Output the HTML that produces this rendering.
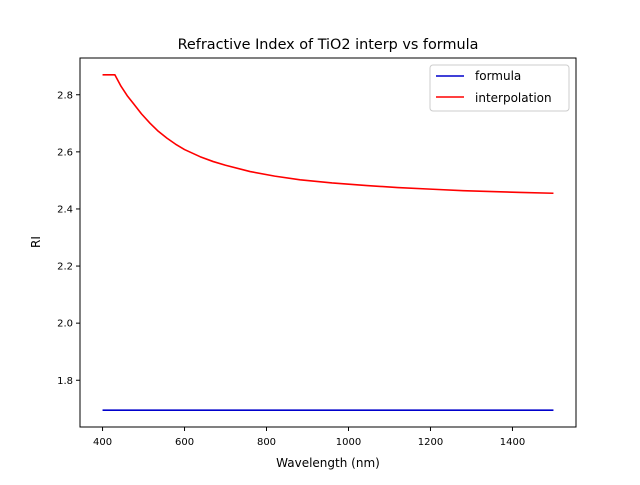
<!DOCTYPE html>
<html><head><meta charset="utf-8"><style>
body{margin:0;background:#fff}
svg text{font-family:"DejaVu Sans","Liberation Sans",sans-serif;fill:#000}
</style></head><body>
<svg id="chart" width="640" height="480" viewBox="0 0 640 480" xmlns="http://www.w3.org/2000/svg">
<rect width="640" height="480" fill="#fff"/>
<text x="328" y="49" font-size="14.4" text-anchor="middle">Refractive Index of TiO2 interp vs formula</text>
<g id="marks"></g>
<rect x="80" y="58" width="496" height="369" fill="none" stroke="#000" stroke-width="1"/>
<g id="xticks"></g><g id="yticks"></g>
<text x="328" y="467" font-size="12" text-anchor="middle">Wavelength (nm)</text>
<text transform="translate(40,242) rotate(-90)" font-size="12" text-anchor="middle">RI</text>
<g>
<rect x="430" y="65" width="139" height="46" rx="3" fill="#fff" stroke="#ccc"/>
<line x1="436" y1="76" x2="464" y2="76" stroke="#0000cc" stroke-width="1.6"/>
<text x="475" y="80" font-size="12">formula</text>
<line x1="436" y1="97" x2="464" y2="97" stroke="#ff0000" stroke-width="1.6"/>
<text x="475" y="102" font-size="12">interpolation</text>
</g>
</svg>
<script>
const wavelengths=[400,430,445,460,475,495,516,536,557,578,600,638,670,700,760,820,882,960,1045,1120,1206,1280,1350,1420,1500];
const interpValues=[2.87,2.87,2.83,2.797,2.770,2.733,2.700,2.672,2.648,2.627,2.608,2.583,2.566,2.553,2.531,2.515,2.502,2.491,2.482,2.475,2.469,2.464,2.461,2.458,2.455];
const formulaWavelengths=[400,1500];
const formulaValues=[1.695,1.695];
const xTickValues=[400,600,800,1000,1200,1400];
const yTickValues=[1.8,2.0,2.2,2.4,2.6,2.8];
const yTickLabels=["1.8","2.0","2.2","2.4","2.6","2.8"];
const X0=80,X1=576,Y0=58,Y1=427;
const xmin=345,xmax=1555,ymin=1.63625,ymax=2.92875;
const sx=v=>X0+(v-xmin)/(xmax-xmin)*(X1-X0);
const sy=v=>Y1-(v-ymin)/(ymax-ymin)*(Y1-Y0);
const NS="http://www.w3.org/2000/svg";
function mk(t,a,p){const e=document.createElementNS(NS,t);for(const k in a)e.setAttribute(k,a[k]);p.appendChild(e);return e;}
const marks=document.getElementById('marks');
let l1=mk('polyline',{points:formulaWavelengths.map((w,i)=>sx(w)+','+sy(formulaValues[i])).join(' '),fill:'none',stroke:'#0000cc','stroke-width':1.6},marks);


let l2=mk('polyline',{points:wavelengths.map((w,i)=>sx(w)+','+sy(interpValues[i])).join(' '),fill:'none',stroke:'#ff0000','stroke-width':1.6,'stroke-linejoin':'round'},marks);


const xt=document.getElementById('xticks');
xTickValues.forEach(v=>{
 const ln=mk('line',{x1:sx(v),x2:sx(v),y1:Y1,y2:Y1+4,stroke:'#000'},xt);
 
 
 const t=mk('text',{x:sx(v),y:Y1+18,'font-size':10,'text-anchor':'middle'},xt);t.textContent=String(v);
 
 
});
const yt=document.getElementById('yticks');
yTickValues.forEach((v,i)=>{
 const ln=mk('line',{x1:X0-4,x2:X0,y1:sy(v),y2:sy(v),stroke:'#000'},yt);
 
 
 const t=mk('text',{x:X0-7,y:sy(v)+3.5,'font-size':10,'text-anchor':'end'},yt);t.textContent=yTickLabels[i];
 
 
});
</script>
</body></html>
